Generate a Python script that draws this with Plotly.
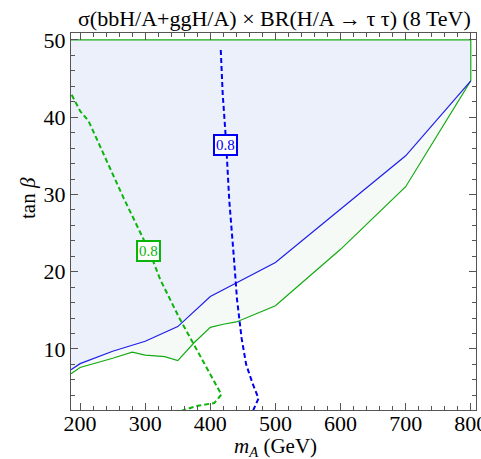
import plotly.graph_objects as go

# Boundary of blue region (lower edge)
blue_m = [186, 200, 250, 300, 350, 400, 500, 700, 800]
blue_t = [7.3, 8.1, 9.7, 11.0, 12.9, 16.8, 21.2, 35.0, 44.7]

# Boundary of green region (lower edge)
green_m = [186, 200, 250, 280, 300, 330, 350, 375, 400, 420, 440, 500, 530, 600, 700, 800]
green_t = [6.8, 7.6, 8.8, 9.6, 9.2, 9.0, 8.5, 10.8, 12.8, 13.2, 13.5, 15.6, 17.8, 22.9, 31.0, 44.7]

TOP = 50.0

# 0.8 contours
gcont_m = [187, 200, 213, 267, 306, 323, 353, 402, 417, 406, 381, 356, 340]
gcont_t = [42.9, 40.8, 39.5, 29.5, 22.7, 19.0, 13.9, 6.5, 4.1, 3.0, 2.66, 2.0, 1.7]
bcont_m = [416, 419, 424, 429, 436, 441, 448, 455, 465, 474, 466, 460]
bcont_t = [48.7, 43.0, 37.0, 29.3, 22.0, 16.4, 11.4, 8.0, 5.5, 3.6, 2.1, 1.7]

label_text = "0.8"
green_label = (305.6, 22.7)
blue_label = (423.6, 36.4)

BLUE_FILL = "rgb(236,240,250)"
GREEN_FILL = "rgb(246,250,246)"
BLUE = "rgb(30,30,235)"
GREEN = "rgb(20,170,20)"
GREEN_D = "rgb(10,180,10)"
BLUE_D = "rgb(0,0,245)"
FONT = "Liberation Serif"

L, R, T, B = 71, 5, 33, 49
W, H = 481, 459
pw, ph = W - L - R, H - T - B


def px_to_paper(px, py):
    return (px - L) / pw, (H - B - py) / ph


fig = go.Figure()

fig.add_trace(go.Scatter(
    x=green_m + [green_m[-1], green_m[0]],
    y=green_t + [TOP, TOP],
    fill="toself", fillcolor=GREEN_FILL, mode="none", hoverinfo="skip"))
fig.add_trace(go.Scatter(
    x=blue_m + [blue_m[-1], blue_m[0]],
    y=blue_t + [TOP, TOP],
    fill="toself", fillcolor=BLUE_FILL, mode="none", hoverinfo="skip"))
fig.add_trace(go.Scatter(
    x=green_m + [green_m[-1], green_m[0]],
    y=green_t + [TOP, TOP],
    mode="lines", line=dict(color=GREEN, width=1.2)))
fig.add_trace(go.Scatter(
    x=blue_m, y=blue_t, mode="lines", line=dict(color=BLUE, width=1.2)))
fig.add_trace(go.Scatter(
    x=gcont_m, y=gcont_t, mode="lines",
    line=dict(color=GREEN_D, width=2, dash="5px,3px")))
fig.add_trace(go.Scatter(
    x=bcont_m, y=bcont_t, mode="lines",
    line=dict(color=BLUE_D, width=2, dash="5px,3px")))

for (lx, ly), col in [(green_label, GREEN_D), (blue_label, BLUE_D)]:
    fig.add_annotation(x=lx, y=ly, text=label_text, showarrow=False,
                       font=dict(family=FONT, size=15, color=col),
                       bgcolor="white", bordercolor=col, borderwidth=2,
                       borderpad=1)

tx, ty = px_to_paper(274, 18)
fig.add_annotation(x=tx, y=ty, xref="paper", yref="paper",
                   xanchor="center", yanchor="middle", showarrow=False,
                   text="σ(bbH/A+ggH/A) × BR(H/A → τ τ) (8 TeV)",
                   font=dict(family=FONT, size=22, color="black"))
xx, xy = px_to_paper(275, 447)
fig.add_annotation(x=xx, y=xy, xref="paper", yref="paper",
                   xanchor="center", yanchor="middle", showarrow=False,
                   text="<i>m</i><sub><i>A</i></sub> (GeV)",
                   font=dict(family=FONT, size=21, color="black"))
yx, yy = px_to_paper(28, 198)
fig.add_annotation(x=yx, y=yy, xref="paper", yref="paper",
                   xanchor="center", yanchor="middle", showarrow=False,
                   textangle=-90, text="tan <i>β</i>",
                   font=dict(family=FONT, size=21, color="black"))

axis_common = dict(showline=True, linecolor="#555", linewidth=1, mirror="allticks",
                   ticks="inside", tickcolor="#555", ticklen=7, showgrid=False,
                   zeroline=False, ticklabeloverflow="allow", automargin=False,
                   tickfont=dict(family=FONT, size=22, color="black"))
fig.update_xaxes(range=[186, 808], tick0=200, dtick=100, ticklabelstandoff=-6,
                 minor=dict(ticks="inside", dtick=20, ticklen=4, tickcolor="#555"),
                 **axis_common)
fig.update_yaxes(range=[2.1, 50.9], tick0=10, dtick=10,
                 minor=dict(ticks="inside", dtick=2, ticklen=4, tickcolor="#555"),
                 **axis_common)

fig.update_layout(width=W, height=H, showlegend=False,
                  margin=dict(l=L, r=R, t=T, b=B),
                  plot_bgcolor="white", paper_bgcolor="white")

fig.write_html("out.html")
